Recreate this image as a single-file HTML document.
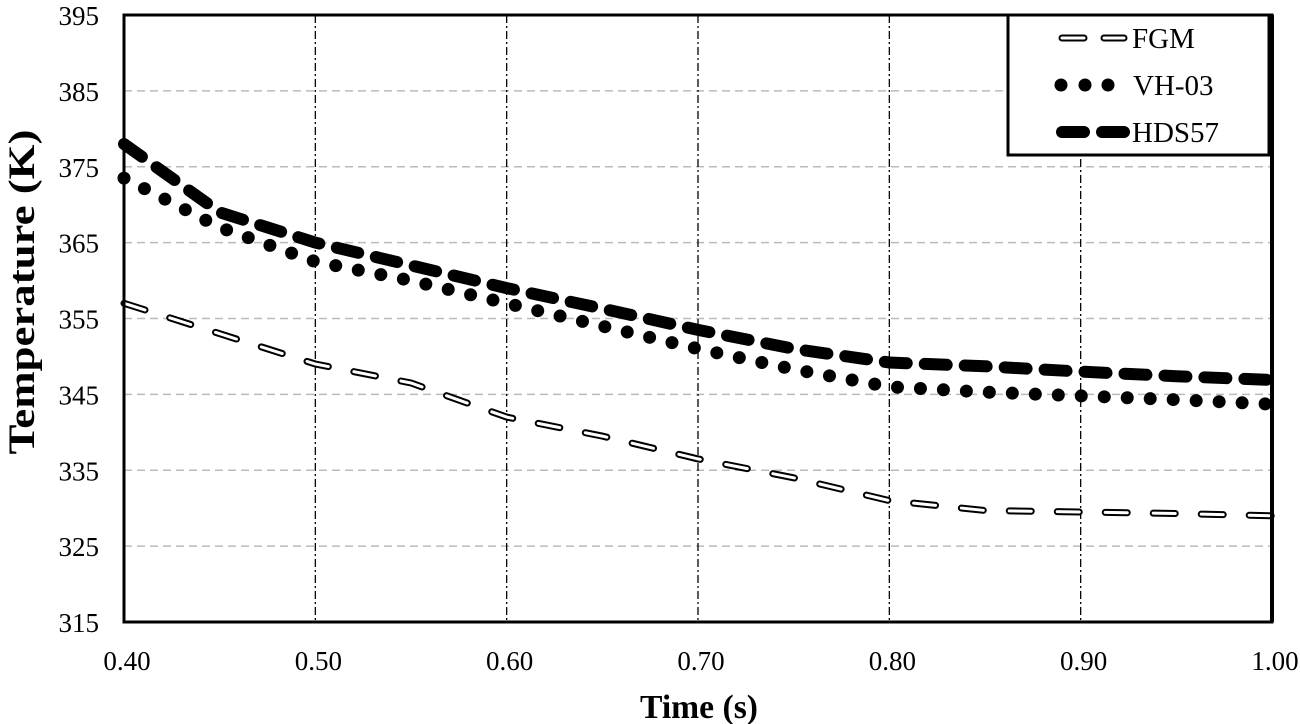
<!DOCTYPE html>
<html><head><meta charset="utf-8"><style>
html,body{margin:0;padding:0;background:#fff;}
svg{display:block;font-family:"Liberation Serif",serif;}
</style></head><body>
<svg id="chart" width="1300" height="724" viewBox="0 0 1300 724">
<g id="grid"></g>
<g id="series"></g>
<rect x="124" y="15" width="1148" height="607" fill="none" stroke="#000" stroke-width="3"/>
<line x1="1272" y1="15" x2="1272" y2="622" stroke="#000" stroke-width="4"/>
<g id="ticks"></g>
<text x="292" y="0" font-size="37" font-weight="bold" text-anchor="middle" textLength="325" lengthAdjust="spacingAndGlyphs" transform="translate(34 0) rotate(-90) translate(-584 0)">Temperature (K)</text>
<text x="699" y="718" font-size="34" font-weight="bold" text-anchor="middle" textLength="118" lengthAdjust="spacingAndGlyphs">Time (s)</text>
<g>
<rect x="1008" y="15" width="261" height="140" fill="#fff" stroke="#000" stroke-width="3"/>
<line x1="1270" y1="15" x2="1270" y2="155" stroke="#000" stroke-width="4"/>
<g>
<line x1="1062" y1="38" x2="1124" y2="38" stroke="#000" stroke-width="7" stroke-dasharray="22 20" stroke-linecap="round"/>
<line x1="1062" y1="38" x2="1124" y2="38" stroke="#fff" stroke-width="3" stroke-dasharray="22 20" stroke-linecap="round"/>
<text x="1132" y="48" font-size="29">FGM</text></g>
<g>
<circle cx="1061" cy="85" r="6.5"/><circle cx="1085" cy="85" r="6.5"/><circle cx="1108" cy="85" r="6.5"/>
<text x="1133" y="95" font-size="29">VH-03</text></g>
<g>
<line x1="1062" y1="132" x2="1124" y2="132" stroke="#000" stroke-width="12" stroke-dasharray="22 18" stroke-linecap="round"/>
<text x="1132" y="142" font-size="29">HDS57</text></g>
</g>
</svg>
<script>
const xTicks=[0.40,0.50,0.60,0.70,0.80,0.90,1.00];
const yTicks=[315,325,335,345,355,365,375,385,395];
const times=[0.40,0.45,0.50,0.55,0.60,0.65,0.70,0.75,0.80,0.85,0.90,0.95,1.00];
const fgm=[357,353,349,346.5,342,339.5,336.5,334,331,329.7,329.5,329.3,329];
const vh03=[373.5,367,362.5,360,357,354,351,348.3,346,345.3,344.8,344.3,343.7];
const hds57=[378,369,365,362,359,356.3,353.5,351,349.2,348.7,348,347.4,346.9];
const X0=124,X1=1272,Y0=622,Y1=15;
const sx=v=>X0+(v-0.4)/0.6*(X1-X0);
const sy=v=>Y0-(v-315)/80*(Y0-Y1);
const NS='http://www.w3.org/2000/svg';
function mk(t,a,p){const e=document.createElementNS(NS,t);for(const k in a)e.setAttribute(k,a[k]);p.appendChild(e);return e;}
const grid=document.getElementById('grid'),ticks=document.getElementById('ticks'),ser=document.getElementById('series');
yTicks.forEach(v=>{
 if(v>315&&v<395){const l=mk('line',{x1:X0,x2:X1,y1:sy(v),y2:sy(v),stroke:'#bbb','stroke-width':1.5,'stroke-dasharray':'8 5'},grid);
 
 }
 const t=mk('text',{x:99,y:sy(v)+10,'font-size':27,'text-anchor':'end'},ticks);t.textContent=v;
 
 
});
xTicks.forEach(v=>{
 if(v>0.4&&v<1){const l=mk('line',{x1:sx(v),x2:sx(v),y1:Y1,y2:Y0,stroke:'#000','stroke-width':1.3,'stroke-dasharray':'8 3 2 3'},grid);
 
 }
 const t=mk('text',{x:sx(v)+3,y:670,'font-size':27,'text-anchor':'middle'},ticks);t.textContent=v.toFixed(2);
 
 
});
function path(arr){return arr.map((v,i)=>(i?'L':'M')+sx(times[i]).toFixed(1)+','+sy(v).toFixed(1)).join('');}
let p;
p=mk('path',{d:path(hds57),fill:'none',stroke:'#000','stroke-width':12,'stroke-dasharray':'22 18','stroke-linecap':'round'},ser);


p=mk('path',{d:path(vh03),fill:'none',stroke:'#000','stroke-width':13,'stroke-dasharray':'0 23','stroke-linecap':'round'},ser);


p=mk('path',{d:path(fgm),fill:'none',stroke:'#000','stroke-width':7,'stroke-dasharray':'22 26','stroke-linecap':'round'},ser);


p=mk('path',{d:path(fgm),fill:'none',stroke:'#fff','stroke-width':3,'stroke-dasharray':'22 26','stroke-linecap':'round'},ser);


</script>
</body></html>
